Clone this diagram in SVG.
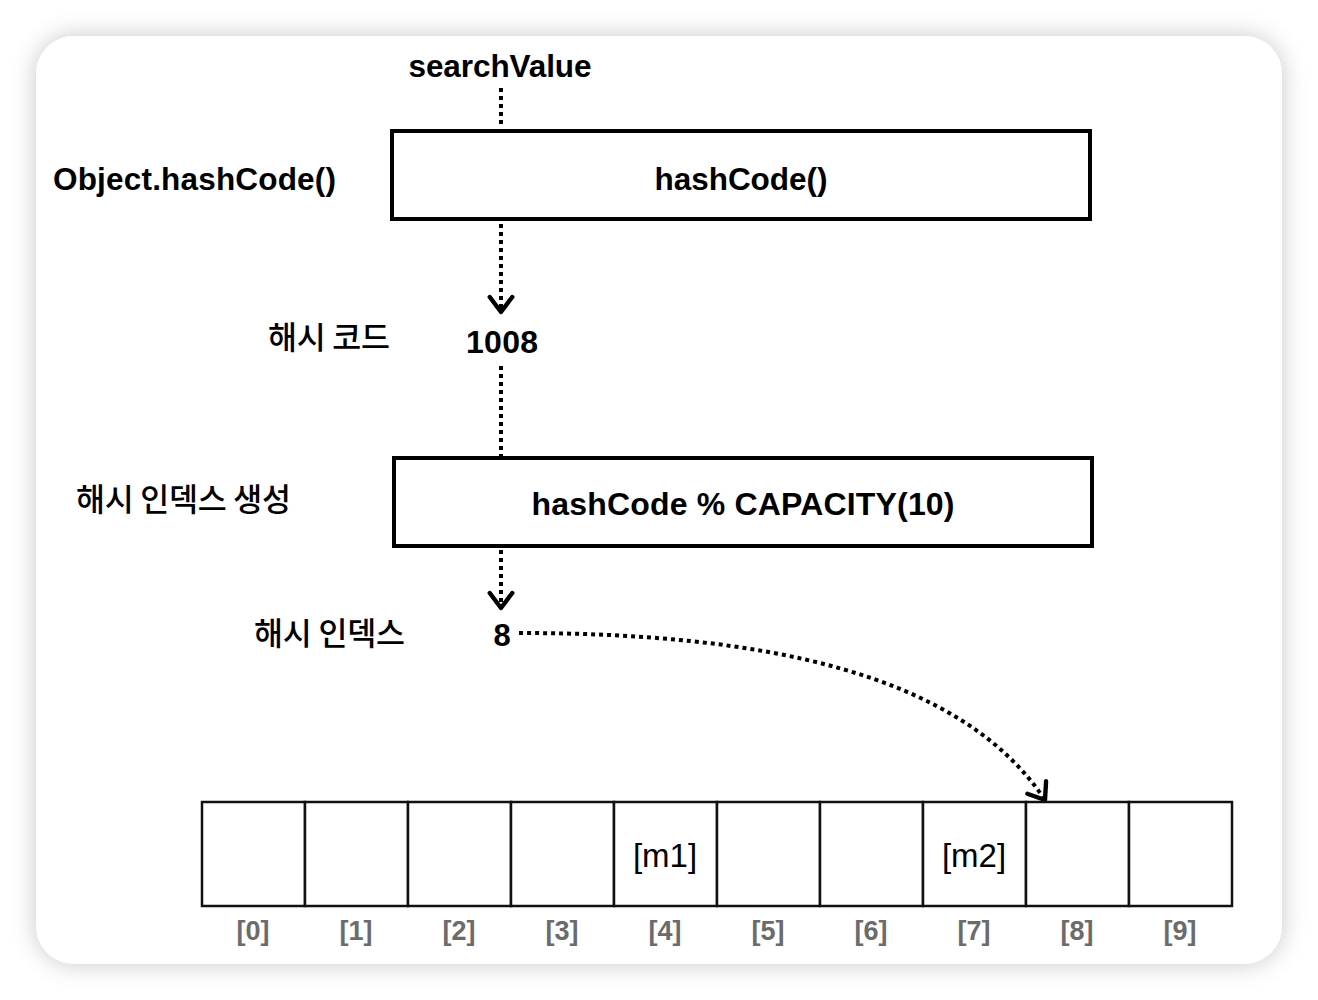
<svg xmlns="http://www.w3.org/2000/svg" width="1318" height="1000" viewBox="0 0 1318 1000">
<defs>
<filter id="shadow" x="-10%" y="-10%" width="120%" height="120%">
<feDropShadow dx="0" dy="0" stdDeviation="12" flood-color="#000" flood-opacity="0.22"/>
</filter>
<marker id="arrow" markerUnits="userSpaceOnUse" markerWidth="30" markerHeight="30" viewBox="-16 -12 20 24" refX="0" refY="0" orient="auto">
<path d="M-12,-9 L0,0 L-12,9" fill="none" stroke="#000" stroke-width="3.5" stroke-linecap="round" stroke-linejoin="round"/>
</marker>
<style>
.t{font-family:"Liberation Sans","Noto Sans CJK KR",sans-serif;fill:#000;}
.b{font-weight:bold;}
.kr{font-family:"Noto Sans CJK KR","Liberation Sans",sans-serif;font-weight:500;font-size:31.5px;}
.box{fill:#fff;stroke:#000;stroke-width:4;}
.cell{fill:#fff;stroke:#111;stroke-width:2.5;}
.dot{fill:none;stroke:#000;stroke-width:4;stroke-dasharray:4 4;}
.idx{font-family:"Liberation Sans",sans-serif;font-weight:bold;font-size:27px;fill:#6b6b6b;text-anchor:middle;}
.m{font-family:"Liberation Sans",sans-serif;font-size:33px;fill:#000;text-anchor:middle;}
</style>
</defs>
<rect width="1318" height="1000" fill="#fff"/>
<rect x="36" y="36" width="1246" height="928" rx="38" fill="#fff" filter="url(#shadow)"/>

<g id="connectors">
<path class="dot" d="M501,88 L501,128"/>
<path class="dot" d="M501,224 L501,312" marker-end="url(#arrow)"/>
<path class="dot" d="M501,366 L501,456"/>
<path class="dot" d="M501,550 L501,608" marker-end="url(#arrow)"/>
<path class="dot" d="M519,633 C760,633 960,672 1045,800" marker-end="url(#arrow)"/>
</g>

<g id="searchValue"><text class="t b" x="500" y="77" font-size="31.5" text-anchor="middle" textLength="183">searchValue</text></g>
<g id="label-object-hashcode"><text class="t b" x="53" y="190" font-size="31.5" textLength="283">Object.hashCode()</text></g>
<g id="hashcode-box">
<rect class="box" x="392" y="131" width="698" height="88"/>
<text class="t b" x="741" y="190" font-size="31.5" text-anchor="middle" textLength="173">hashCode()</text>
</g>
<g id="label-hash-code"><text class="kr" x="268" y="349" textLength="122">해시 코드</text></g>
<g id="value-1008"><text class="t b" x="502" y="353" font-size="32" text-anchor="middle" textLength="72">1008</text></g>
<g id="label-hash-index-gen"><text class="kr" x="76" y="511" textLength="215">해시 인덱스 생성</text></g>
<g id="mod-box">
<rect class="box" x="394" y="458" width="698" height="88"/>
<text class="t b" x="743" y="515" font-size="32" text-anchor="middle" textLength="423">hashCode % CAPACITY(10)</text>
</g>
<g id="label-hash-index"><text class="kr" x="254" y="645" textLength="151">해시 인덱스</text></g>
<g id="value-8"><text class="t b" x="502" y="646" font-size="31" text-anchor="middle">8</text></g>

<g id="array">
<rect class="cell" x="202" y="802" width="103" height="104"/>
<rect class="cell" x="305" y="802" width="103" height="104"/>
<rect class="cell" x="408" y="802" width="103" height="104"/>
<rect class="cell" x="511" y="802" width="103" height="104"/>
<rect class="cell" x="614" y="802" width="103" height="104"/>
<rect class="cell" x="717" y="802" width="103" height="104"/>
<rect class="cell" x="820" y="802" width="103" height="104"/>
<rect class="cell" x="923" y="802" width="103" height="104"/>
<rect class="cell" x="1026" y="802" width="103" height="104"/>
<rect class="cell" x="1129" y="802" width="103" height="104"/>
<text class="m" x="665" y="867">[m1]</text>
<text class="m" x="974" y="867">[m2]</text>
<text class="idx" x="253" y="940">[0]</text>
<text class="idx" x="356" y="940">[1]</text>
<text class="idx" x="459" y="940">[2]</text>
<text class="idx" x="562" y="940">[3]</text>
<text class="idx" x="665" y="940">[4]</text>
<text class="idx" x="768" y="940">[5]</text>
<text class="idx" x="871" y="940">[6]</text>
<text class="idx" x="974" y="940">[7]</text>
<text class="idx" x="1077" y="940">[8]</text>
<text class="idx" x="1180" y="940">[9]</text>
</g>
</svg>
